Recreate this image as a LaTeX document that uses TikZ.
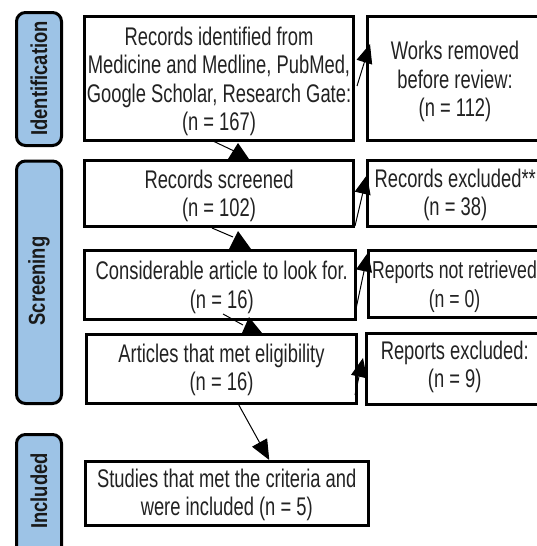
\documentclass[tikz,border=0pt]{standalone}
\usepackage{fontspec}
\setmainfont{Liberation Sans}[FakeStretch=0.72]
\newfontfamily\phasefont{Liberation Sans}[FakeStretch=0.8]
\usetikzlibrary{calc,arrows.meta}
\definecolor{phaseblue}{HTML}{9DC3E6}
\definecolor{ink}{HTML}{222222}

\tikzset{
  box/.style={draw=black, line width=3pt, fill=white, inner sep=0pt, outer sep=0pt},
  boxtext/.style={align=center, inner sep=0pt, text=ink, font=\fontsize{25.5}{28.5}\selectfont},
  phase/.style={draw=black, line width=3pt, fill=phaseblue, rounded corners=9pt,
    inner sep=0pt, outer sep=0pt, minimum width=45pt},
  phasetext/.style={rotate=90, inner sep=0pt, text=black!90,
    font=\phasefont\bfseries\fontsize{23}{28}\selectfont},
  conn/.style={line width=1pt},
  head/.style={fill=black},
  sidetip/.style={conn, -{Triangle[length=19pt,width=16pt]}},
}

\begin{document}
\begin{tikzpicture}[x=1pt, y=-1pt]
  \path[use as bounding box] (0,0) rectangle (537,546);
  \clip (0,0) rectangle (537,546);

  % phase labels on the left
  \node[phase, minimum height=133pt] (ident) at (39,79) {};
  \node[phasetext] (identtxt) at (39,78.5) {Identification};
  \node[phase, minimum height=242.5pt] (screen) at (39,282.25) {};
  \node[phasetext] (screentxt) at (39,281) {Screening};
  \node[phase, minimum height=140pt] (incl) at (39,504.5) {};
  \node[phasetext] (incltxt) at (39,491) {Included};

  % main column
  \node[box, minimum width=269pt, minimum height=124pt] (b1) at (219,78.5) {};
  \node[boxtext] (b1t) at ($(b1.center)+(0,3)$)
    {Records identified from\\Medicine and Medline, PubMed,\\Google Scholar, Research Gate:\\(n = 167)};
  \node[box, minimum width=269pt, minimum height=66pt] (scr) at (219,193) {};
  \node[boxtext] (scrt) at ($(scr.center)+(0,3)$) {Records screened\\(n = 102)};
  \node[box, minimum width=270.5pt, minimum height=69pt] (cons) at (219.75,284.5) {};
  \node[boxtext] (const) at ($(cons.center)+(2,3)$) {Considerable article to look for.\\(n = 16)};
  \node[box, minimum width=270pt, minimum height=69pt] (art) at (221.5,369) {};
  \node[boxtext] (artt) at ($(art.center)+(0,1)$) {Articles that met eligibility\\(n = 16)};
  \node[box, minimum width=283.5pt, minimum height=64pt] (stud) at (226.75,493) {};
  \node[boxtext] (studt) at ($(stud.center)+(0,2)$) {Studies that met the criteria and\\were included (n = 5)};

  % exclusion column
  \node[box, minimum width=176pt, minimum height=124pt] (works) at (455,78.5) {};
  \node[boxtext] (workst) at ($(works.center)+(0,3)$) {Works removed\\before review:\\(n = 112)};
  \node[box, minimum width=175.5pt, minimum height=66pt] (excl1) at (455.25,193) {};
  \node[boxtext] (excl1t) at ($(excl1.center)+(0,2)$) {Records excluded**\\(n = 38)};
  \node[box, minimum width=175pt, minimum height=67pt] (notret) at (455.5,283.5) {};
  \node[boxtext, font=\fontsize{24.5}{28.5}\selectfont] (notrett) at ($(notret.center)+(-1,3)$)
    {Reports not retrieved\\(n = 0)};
  \node[box, minimum width=176.5pt, minimum height=71pt] (rexcl) at (454.75,369) {};
  \node[boxtext] (rexclt) at ($(rexcl.center)+(0,-2)$) {Reports excluded:\\(n = 9)};

  % connectors down the main column
  \draw[conn] ($(b1.south)+(-6,0.5)$) -- ($(scr.north)+(15,-9)$);
  \fill[head] ($(b1.south)+(19,2.5)$) -- ($(scr.north)+(9,-1)$) -- ($(scr.north)+(30,-1)$) -- cycle;

  \draw[conn] ($(scr.south)+(-7,2)$) -- ($(cons.north)+(13.25,-13)$);
  \fill[head] ($(scr.south)+(19,5)$) -- ($(cons.north)+(9.25,-1)$) -- ($(cons.north)+(31.25,-1)$) -- cycle;

  \draw[conn] ($(cons.south)+(3.25,-5)$) -- ($(art.north)+(21.5,-9.5)$);
  \fill[head] ($(cons.south)+(29.25,-2)$) -- ($(art.north)+(20.5,-1.5)$) -- ($(art.north)+(40.5,-1.5)$) -- cycle;

  \draw[conn, -{Triangle[length=20pt,width=17pt]}] ($(art.south)+(16.5,0)$) -- ($(stud.north)+(42.5,-1)$);

  % connectors to the exclusion column
  \draw[sidetip] ($(b1.east)+(3.5,7.5)$) -- ($(works.west)+(3,-34.5)$);
  \draw[sidetip] ($(scr.east)+(1.5,33)$) -- ($(excl1.west)+(-0.5,-18)$);
  \draw[sidetip] ($(cons.east)+(0,29)$) -- ($(notret.west)+(0,-31)$);
  \draw[sidetip] ($(art.east)+(-1.5,26)$) -- ($(rexcl.west)+(-3.5,-11)$);
\end{tikzpicture}
\end{document}
